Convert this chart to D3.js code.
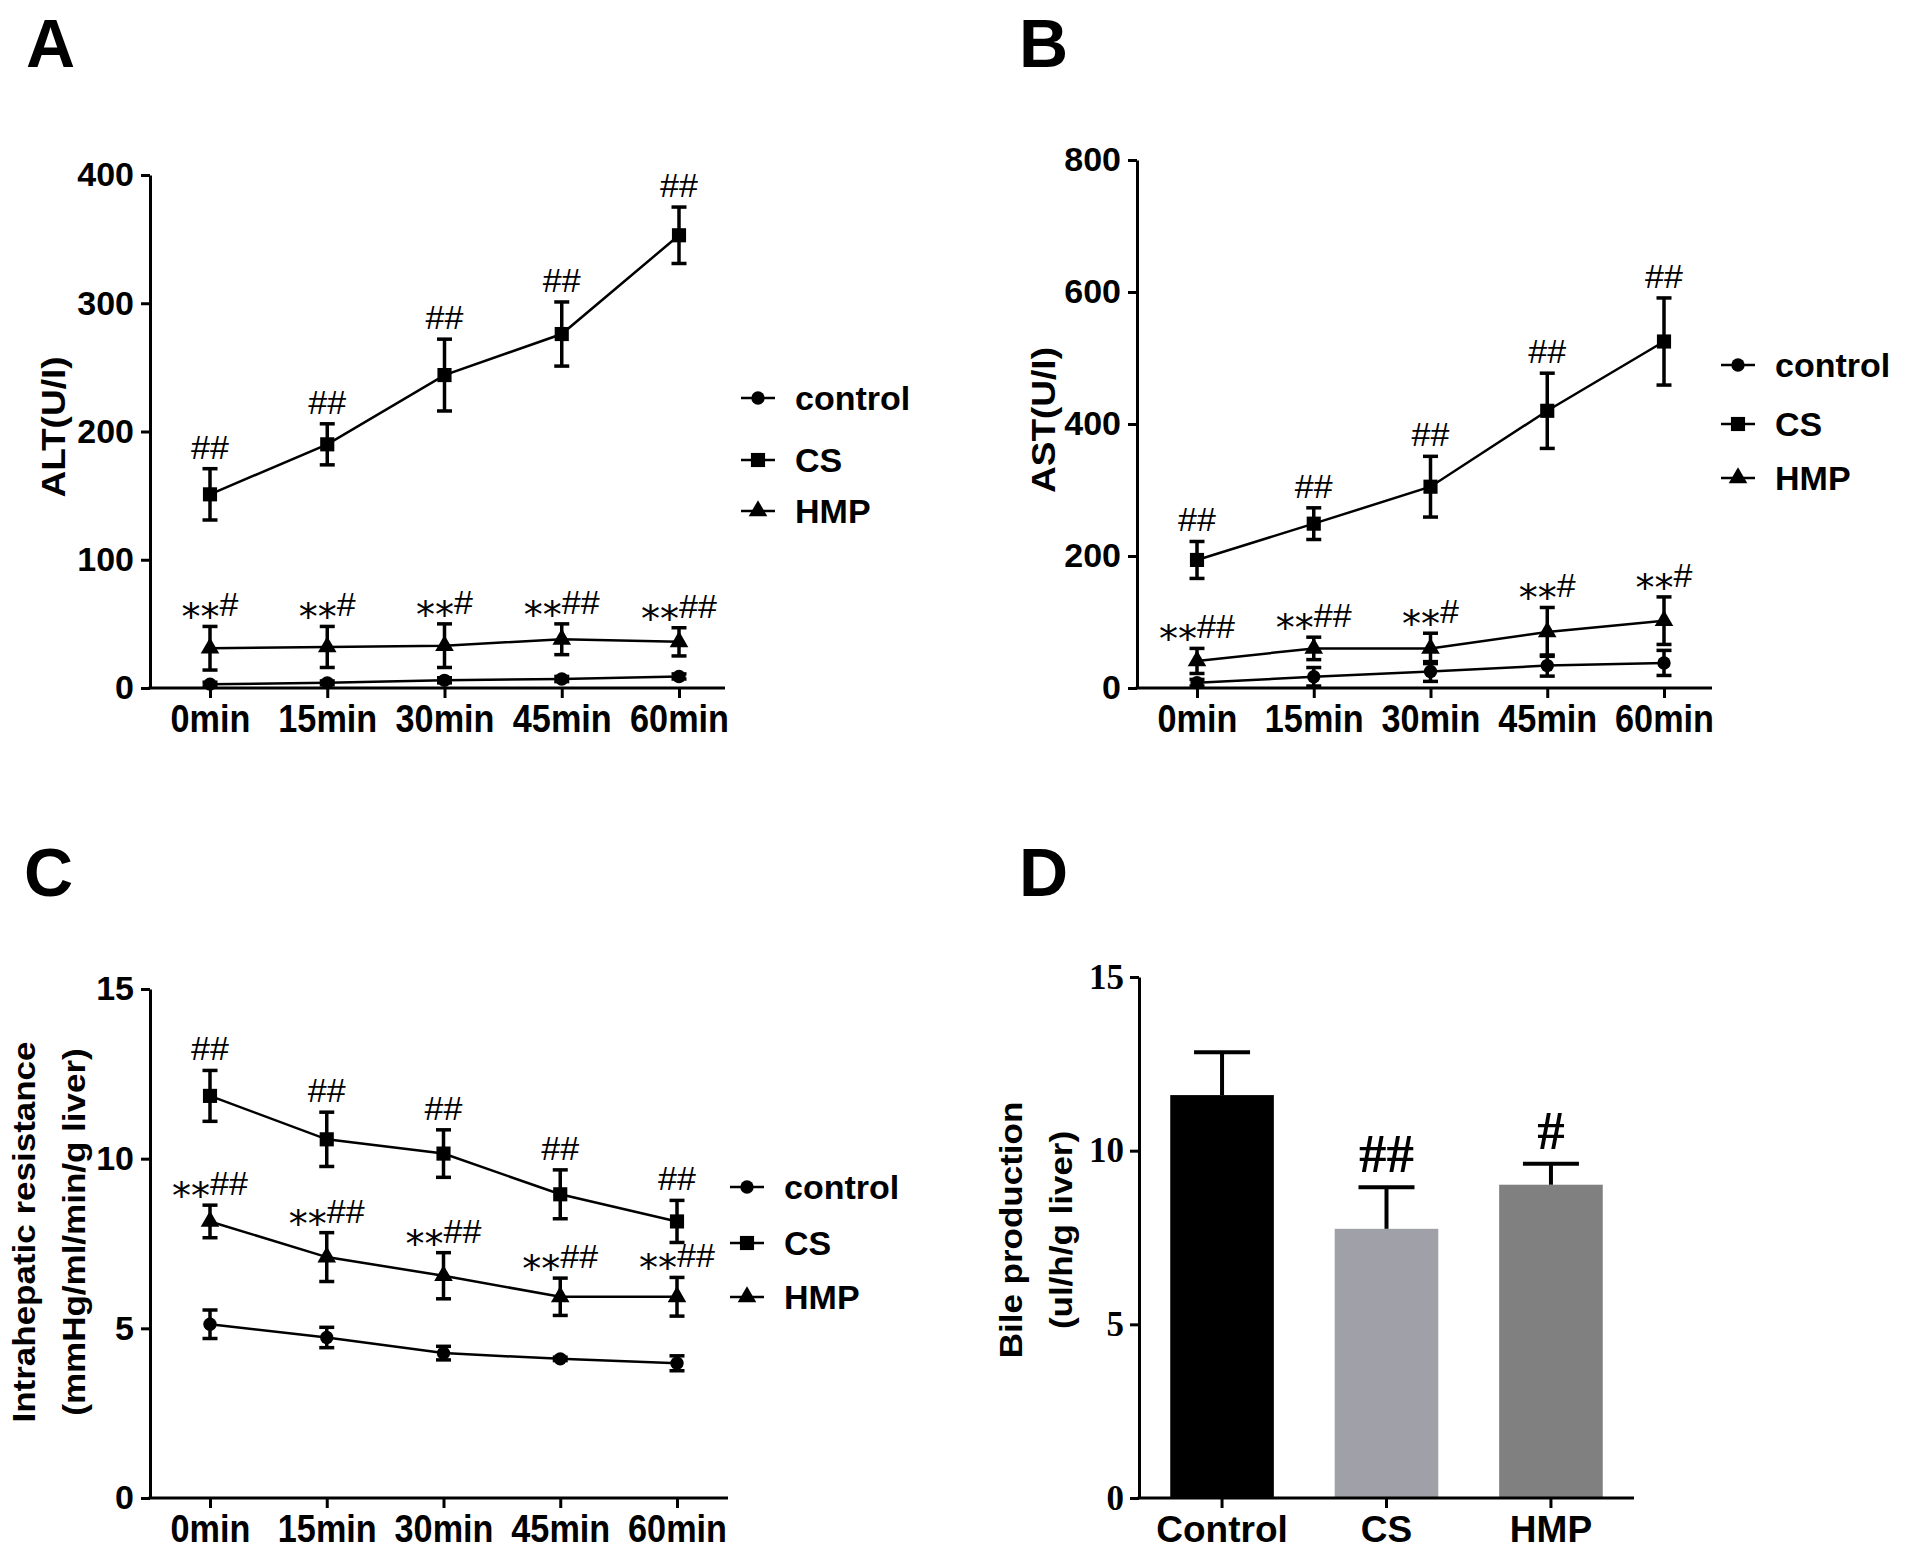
<!DOCTYPE html>
<html>
<head>
<meta charset="utf-8">
<script src="https://cdnjs.cloudflare.com/ajax/libs/d3/7.8.5/d3.min.js"></script>
<style>
  body { margin: 0; background: #fff; }
  svg text { font-family: "Liberation Sans", Arial, sans-serif; fill: #000; }
</style>
</head>
<body>
<div id="fig"></div>
<script>
// ---- data ----
const times = ["0min", "15min", "30min", "45min", "60min"];
const groups = ["control", "CS", "HMP"];

// A: ALT (U/I)
const altControl    = [3, 4, 6, 7, 9];
const altControlErr = [1.5, 1.5, 2, 2, 2];
const altCS         = [151, 190, 244, 276, 353];
const altCSErr      = [20, 16, 28, 25, 22];
const altHMP        = [31, 32, 33, 38, 36];
const altHMPErr     = [17, 16, 17, 12, 11];
const altTicks      = [0, 100, 200, 300, 400];
const altCSMarks    = ["##", "##", "##", "##", "##"];
const altHMPMarks   = ["**#", "**#", "**#", "**##", "**##"];

// B: AST (U/I)
const astControl    = [8, 17, 25, 34, 38];
const astControlErr = [5, 14, 15, 16, 19];
const astCS         = [194, 249, 305, 420, 525];
const astCSErr      = [28, 24, 46, 57, 66];
const astHMP        = [41, 60, 60, 85, 102];
const astHMPErr     = [19, 17, 23, 37, 36];
const astTicks      = [0, 200, 400, 600, 800];
const astCSMarks    = ["##", "##", "##", "##", "##"];
const astHMPMarks   = ["**##", "**##", "**#", "**#", "**#"];

// C: intrahepatic resistance
const resControl    = [5.12, 4.73, 4.27, 4.1, 3.97];
const resControlErr = [0.42, 0.3, 0.2, 0.05, 0.22];
const resCS         = [11.85, 10.57, 10.15, 8.95, 8.15];
const resCSErr      = [0.75, 0.8, 0.7, 0.72, 0.62];
const resHMP        = [8.15, 7.1, 6.55, 5.93, 5.93];
const resHMPErr     = [0.48, 0.72, 0.68, 0.55, 0.57];
const resTicks      = [0, 5, 10, 15];
const resCSMarks    = ["##", "##", "##", "##", "##"];
const resHMPMarks   = ["**##", "**##", "**##", "**##", "**##"];

// D: bile production
const bileGroups = ["Control", "CS", "HMP"];
const bileMean   = [11.6, 7.75, 9.02];
const bileErr    = [1.23, 1.2, 0.6];
const bileTicks  = [0, 5, 10, 15];
const bileMarks  = ["", "##", "#"];

// ---- drawing ----
const W = 1906, H = 1553;
const svg = d3.select("#fig").append("svg")
    .attr("width", W).attr("height", H);

const symbols = [d3.symbolCircle, d3.symbolSquare, d3.symbolTriangle];
const symbolSize = [140, 200, 150];

function panelLabel(txt, x, y) {
    svg.append("text").attr("x", x).attr("y", y)
        .attr("font-size", 68).attr("font-weight", "bold").text(txt);
}

// rotated titles; glyphs a little squeezed across like in the figure
function yTitle(lines, xs, cy, size) {
    lines.forEach((l, i) => {
        svg.append("text")
            .attr("transform", `translate(${xs[i]},${cy}) rotate(-90) scale(1,0.92)`)
            .attr("text-anchor", "middle")
            .attr("font-size", size).attr("font-weight", "bold")
            .text(l);
    });
}

function styleAxis(g) {
    g.select(".domain").attr("stroke", "#000").attr("stroke-width", 3);
    g.selectAll(".tick line").attr("stroke", "#000").attr("stroke-width", 3);
}

// significance text: asterisks sit low, hashes full height
function sigText(g, x, y, str) {
    const t = g.append("text").attr("x", x).attr("y", y).attr("text-anchor", "middle");
    const stars = str.replace(/#/g, ""), hashes = str.replace(/\*/g, "");
    if (stars) {
        t.append("tspan").style("font-family", "'DejaVu Sans'")
            .attr("font-size", 38).attr("dy", 14).text(stars);
    }
    t.append("tspan").attr("font-size", 34).attr("dy", stars ? -14 : 0).text(hashes);
}

function linePanel(p) {
    const g = svg.append("g");
    const x = d3.scalePoint().domain(times).range([p.xFirst, p.xLast]);
    const y = d3.scaleLinear().domain([0, d3.max(p.ticks)]).range([p.y0, p.yTop]);

    const ya = g.append("g").attr("transform", `translate(${p.axisX},0)`)
        .call(d3.axisLeft(y).tickValues(p.ticks).tickSize(9).tickPadding(7).tickSizeOuter(0));
    ya.selectAll("text").attr("font-size", 34).attr("font-weight", "bold");
    styleAxis(ya);

    const xa = g.append("g").attr("transform", `translate(0,${p.y0})`)
        .call(d3.axisBottom(x).tickSize(10).tickPadding(7).tickSizeOuter(0));
    xa.select(".domain").remove();
    xa.selectAll("text").attr("font-size", 38).attr("font-weight", "bold")
        .attr("transform", "scale(0.9,1)");
    styleAxis(xa);
    g.append("line").attr("x1", p.axisX - 1.5).attr("x2", p.xEnd)
        .attr("y1", p.y0).attr("y2", p.y0)
        .attr("stroke", "#000").attr("stroke-width", 3);

    const line = d3.line().x((d, i) => x(times[i])).y(d => y(d));
    p.series.forEach((s, k) => {
        g.append("path").datum(s.vals).attr("d", line)
            .attr("fill", "none").attr("stroke", "#000").attr("stroke-width", 2.5);
        const eb = g.append("g").attr("stroke", "#000").attr("stroke-width", 3.5);
        s.vals.forEach((v, i) => {
            const cx = x(times[i]), top = y(v + s.errs[i]), bot = y(Math.max(0, v - s.errs[i]));
            eb.append("line").attr("x1", cx).attr("x2", cx).attr("y1", top).attr("y2", bot);
            eb.append("line").attr("x1", cx - 7.5).attr("x2", cx + 7.5).attr("y1", top).attr("y2", top);
            eb.append("line").attr("x1", cx - 7.5).attr("x2", cx + 7.5).attr("y1", bot).attr("y2", bot);
        });
        g.append("g").selectAll("path").data(s.vals).join("path")
            .attr("transform", (d, i) => `translate(${x(times[i])},${y(d)})`)
            .attr("d", d3.symbol(symbols[k], symbolSize[k]))
            .attr("fill", "#000");
        if (s.marks) {
            s.marks.forEach((m, i) => sigText(g, x(times[i]), y(s.vals[i] + s.errs[i]) - 10, m));
        }
    });

    // legend
    groups.forEach((name, k) => {
        const ly = p.legendY[k];
        g.append("line").attr("x1", p.legendX).attr("x2", p.legendX + 34)
            .attr("y1", ly).attr("y2", ly).attr("stroke", "#000").attr("stroke-width", 2.5);
        g.append("path").attr("transform", `translate(${p.legendX + 17},${ly})`)
            .attr("d", d3.symbol(symbols[k], symbolSize[k])).attr("fill", "#000");
        g.append("text").attr("x", p.legendX + 54).attr("y", ly + 12)
            .attr("font-size", 34).attr("font-weight", "bold").text(name);
    });
}

// A
panelLabel("A", 26, 67);
yTitle(["ALT(U/I)"], [65], 427, 37);
linePanel({
    axisX: 150, yTop: 175, y0: 688, xFirst: 210, xLast: 679, xEnd: 725,
    ticks: altTicks, legendX: 741, legendY: [398, 460, 511],
    series: [
        { vals: altControl, errs: altControlErr },
        { vals: altCS, errs: altCSErr, marks: altCSMarks },
        { vals: altHMP, errs: altHMPErr, marks: altHMPMarks }
    ]
});

// B
panelLabel("B", 1019, 67);
yTitle(["AST(U/I)"], [1055], 420, 37);
linePanel({
    axisX: 1137, yTop: 160, y0: 688, xFirst: 1197, xLast: 1664, xEnd: 1712,
    ticks: astTicks, legendX: 1721, legendY: [365, 424, 478],
    series: [
        { vals: astControl, errs: astControlErr },
        { vals: astCS, errs: astCSErr, marks: astCSMarks },
        { vals: astHMP, errs: astHMPErr, marks: astHMPMarks }
    ]
});

// C
panelLabel("C", 24, 896);
yTitle(["Intrahepatic resistance", "(mmHg/ml/min/g liver)"], [35, 85], 1232, 35);
linePanel({
    axisX: 150, yTop: 989, y0: 1498, xFirst: 210, xLast: 677, xEnd: 728,
    ticks: resTicks, legendX: 730, legendY: [1187, 1243, 1297],
    series: [
        { vals: resControl, errs: resControlErr },
        { vals: resCS, errs: resCSErr, marks: resCSMarks },
        { vals: resHMP, errs: resHMPErr, marks: resHMPMarks }
    ]
});

// D
panelLabel("D", 1019, 896);
yTitle(["Bile production", "(ul/h/g liver)"], [1022, 1072], 1230, 35);
(function () {
    const g = svg.append("g");
    const axisX = 1139, y0 = 1498, yTop = 977, xEnd = 1634;
    const x = d3.scaleBand().domain(bileGroups).range([axisX, xEnd])
        .paddingInner(0.37).paddingOuter(0.19);
    const y = d3.scaleLinear().domain([0, d3.max(bileTicks)]).range([y0, yTop]);
    const colors = ["#000000", "#a0a0a8", "#808080"];

    g.selectAll("rect").data(bileMean).join("rect")
        .attr("x", (d, i) => x(bileGroups[i])).attr("width", x.bandwidth())
        .attr("y", d => y(d)).attr("height", d => y0 - y(d))
        .attr("fill", (d, i) => colors[i]);

    const eb = g.append("g").attr("stroke", "#000").attr("stroke-width", 4);
    bileMean.forEach((v, i) => {
        const cx = x(bileGroups[i]) + x.bandwidth() / 2, top = y(v + bileErr[i]);
        eb.append("line").attr("x1", cx).attr("x2", cx).attr("y1", y(v)).attr("y2", top);
        eb.append("line").attr("x1", cx - 28).attr("x2", cx + 28).attr("y1", top).attr("y2", top);
        if (bileMarks[i]) {
            g.append("text").attr("x", cx).attr("y", top - 15).attr("text-anchor", "middle")
                .style("font-family", "'Liberation Serif', serif")
                .attr("font-size", 55).attr("font-weight", "bold").text(bileMarks[i]);
        }
    });

    const ya = g.append("g").attr("transform", `translate(${axisX},0)`)
        .call(d3.axisLeft(y).tickValues(bileTicks).tickSize(9).tickPadding(6).tickSizeOuter(0));
    ya.selectAll("text").style("font-family", "'Liberation Serif', serif")
        .attr("font-size", 35).attr("font-weight", "bold");
    styleAxis(ya);

    const xa = g.append("g").attr("transform", `translate(0,${y0})`)
        .call(d3.axisBottom(x).tickSize(10).tickPadding(8).tickSizeOuter(0));
    xa.select(".domain").remove();
    xa.selectAll("text").attr("font-size", 37).attr("font-weight", "bold");
    styleAxis(xa);
    g.append("line").attr("x1", axisX - 1.5).attr("x2", xEnd)
        .attr("y1", y0).attr("y2", y0).attr("stroke", "#000").attr("stroke-width", 3);
})();
</script>
</body>
</html>
